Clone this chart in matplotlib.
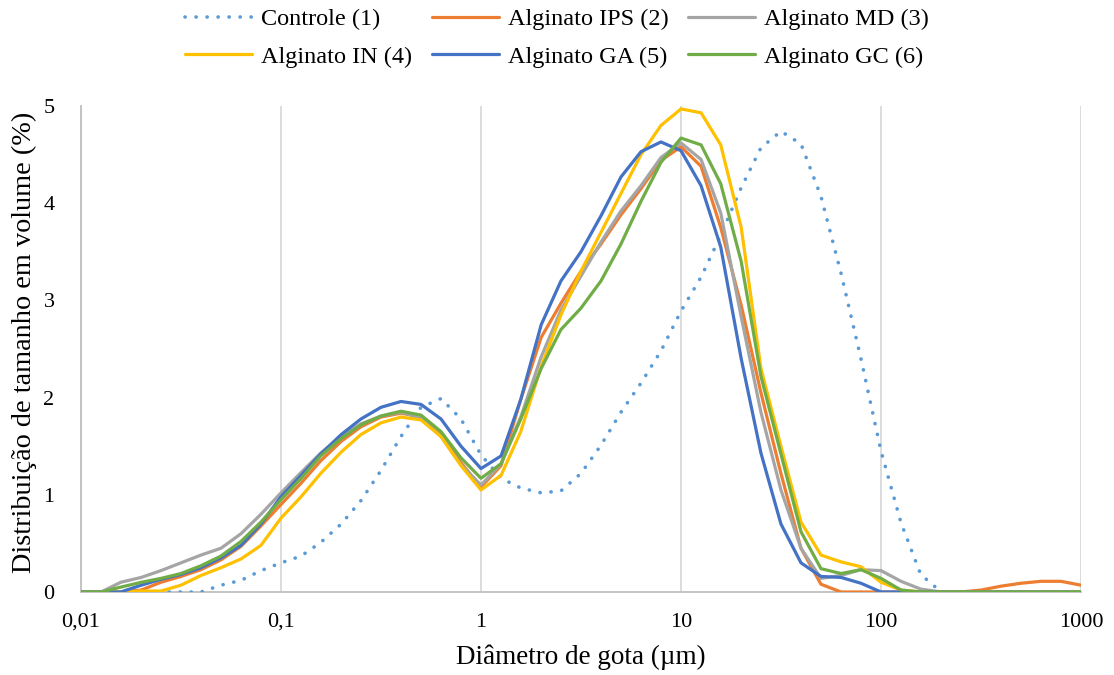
import numpy as np
import matplotlib
matplotlib.use("Agg")
import matplotlib.pyplot as plt

# Diameter grid (µm), log-spaced 0.01 .. 1000, 10 points per decade
diam = [0.01, 0.0126, 0.0158, 0.02, 0.0251, 0.0316, 0.0398, 0.0501, 0.0631, 0.0794,
        0.1, 0.126, 0.158, 0.2, 0.251, 0.316, 0.398, 0.501, 0.631, 0.794,
        1.0, 1.26, 1.58, 2.0, 2.51, 3.16, 3.98, 5.01, 6.31, 7.94,
        10.0, 12.6, 15.8, 20.0, 25.1, 31.6, 39.8, 50.1, 63.1, 79.4,
        100.0, 126, 158, 200, 251, 316, 398, 501, 631, 794, 1000]

controle = [0, 0, 0, 0, 0, 0, 0, 0.07, 0.12, 0.22,
            0.30, 0.37, 0.51, 0.70, 0.94, 1.25, 1.60, 1.90, 1.99, 1.78,
            1.41, 1.17, 1.07, 1.02, 1.04, 1.22, 1.51, 1.85, 2.15, 2.48,
            2.89, 3.24, 3.67, 4.16, 4.57, 4.74, 4.61, 4.07, 3.28, 2.40,
            1.45, 0.71, 0.18, 0, 0, 0, 0, 0, 0, 0, 0]

ips = [0, 0, 0, 0.02, 0.10, 0.16, 0.23, 0.33, 0.47, 0.68,
       0.90, 1.12, 1.35, 1.55, 1.70, 1.80, 1.84, 1.80, 1.63, 1.33,
       1.08, 1.30, 1.98, 2.62, 2.97, 3.30, 3.58, 3.88, 4.15, 4.44,
       4.58, 4.38, 3.75, 2.95, 2.05, 1.22, 0.45, 0.08, 0, 0,
       0, 0, 0, 0, 0, 0.02, 0.06, 0.09, 0.11, 0.11, 0.07]

md = [0, 0, 0.10, 0.15, 0.22, 0.30, 0.38, 0.45, 0.60, 0.80,
      1.02, 1.23, 1.43, 1.60, 1.73, 1.81, 1.85, 1.79, 1.60, 1.31,
      1.10, 1.32, 1.80, 2.42, 2.90, 3.25, 3.60, 3.92, 4.18, 4.47,
      4.62, 4.45, 3.90, 2.83, 1.85, 1.05, 0.45, 0.14, 0.17, 0.23,
      0.22, 0.11, 0.03, 0, 0, 0, 0, 0, 0, 0, 0]

inn = [0, 0, 0, 0.01, 0.01, 0.07, 0.17, 0.25, 0.34, 0.48,
       0.76, 0.98, 1.22, 1.44, 1.62, 1.74, 1.80, 1.77, 1.60, 1.30,
       1.05, 1.20, 1.65, 2.32, 2.85, 3.30, 3.70, 4.10, 4.50, 4.80,
       4.97, 4.93, 4.60, 3.75, 2.30, 1.50, 0.72, 0.38, 0.31, 0.26,
       0.10, 0.02, 0, 0, 0, 0, 0, 0, 0, 0, 0]

ga = [0, 0, 0, 0.07, 0.13, 0.18, 0.25, 0.35, 0.48, 0.70,
      0.98, 1.20, 1.42, 1.62, 1.78, 1.90, 1.96, 1.93, 1.78, 1.50,
      1.27, 1.40, 1.98, 2.75, 3.20, 3.50, 3.87, 4.27, 4.53, 4.63,
      4.54, 4.18, 3.55, 2.40, 1.43, 0.70, 0.30, 0.16, 0.15, 0.09,
      0, 0, 0, 0, 0, 0, 0, 0, 0, 0, 0]

gc = [0, 0, 0.05, 0.10, 0.14, 0.19, 0.27, 0.37, 0.52, 0.72,
      0.95, 1.17, 1.40, 1.58, 1.72, 1.81, 1.86, 1.82, 1.65, 1.38,
      1.17, 1.32, 1.78, 2.30, 2.70, 2.92, 3.20, 3.58, 4.02, 4.42,
      4.67, 4.60, 4.20, 3.40, 2.22, 1.42, 0.62, 0.24, 0.19, 0.23,
      0.14, 0.02, 0, 0, 0, 0, 0, 0, 0, 0, 0]

labels = ["Controle (1)", "Alginato IPS (2)", "Alginato MD (3)",
          "Alginato IN (4)", "Alginato GA (5)", "Alginato GC (6)"]
colors = ["#5B9BD5", "#ED7D31", "#A5A5A5", "#FFC000", "#4472C4", "#70AD47"]
series = [controle, ips, md, inn, ga, gc]

xticks = [0.01, 0.1, 1, 10, 100, 1000]
xticklabels = ["0,01", "0,1", "1", "10", "100", "1000"]
yticks = [0, 1, 2, 3, 4, 5]

plt.rcParams['font.family'] = ['Liberation Serif', 'DejaVu Serif']

fig = plt.figure(figsize=(11.14, 6.75), dpi=100)
ax = fig.add_axes([81/1114, 1-592/675, 1000/1114, (592-106)/675])

handles = []
for i, (s, c, lab) in enumerate(zip(series, colors, labels)):
    if i == 0:
        h, = ax.plot(diam, s, color=c, lw=2.6, linestyle=(0, (0.05, 3.0)),
                     dash_capstyle='round', label=lab, zorder=3)
    else:
        h, = ax.plot(diam, s, color=c, lw=2.3, label=lab, zorder=3 + i,
                     solid_joinstyle='round', solid_capstyle='round')
    handles.append(h)

ax.set_xscale('log')
ax.set_xlim(0.01, 1000)
ax.set_ylim(0, 5)
ax.set_xticks(xticks)
ax.set_xticklabels(xticklabels)
ax.xaxis.set_minor_locator(matplotlib.ticker.NullLocator())
ax.set_yticks(yticks)
ax.tick_params(axis='both', length=0, labelsize=16, colors='black')
ax.tick_params(axis='x', pad=15)
ax.tick_params(axis='y', pad=19)
ax.grid(axis='x', color='#D9D9D9', lw=1.3, zorder=0)
for sp in ['top', 'right']:
    ax.spines[sp].set_visible(False)
ax.spines['left'].set_color('#BFBFBF')
ax.spines['bottom'].set_color('#BFBFBF')
ax.spines['left'].set_linewidth(1.3)
ax.spines['bottom'].set_linewidth(1.3)

ax.set_xlabel("Diâmetro de gota (µm)", fontsize=19.5, labelpad=9)
ax.set_ylabel("Distribuição de tamanho em volume (%)", fontsize=20.3)
ax.yaxis.set_label_coords(-0.044, 0.514)

order = [0, 3, 1, 4, 2, 5]
fig.legend([handles[i] for i in order], [labels[i] for i in order],
           loc='center', bbox_to_anchor=(0.5, 1-38/675), ncol=3, frameon=False,
           fontsize=17.5, handlelength=2.75, handletextpad=0.37, columnspacing=0.8,
           labelspacing=0.62)

fig.savefig("out.png", dpi=100)
